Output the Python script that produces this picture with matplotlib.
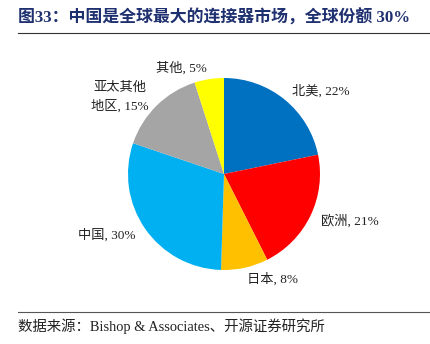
import matplotlib
matplotlib.use('Agg')
import matplotlib.pyplot as plt
from matplotlib.lines import Line2D

plt.rcParams['font.family'] = ['Liberation Serif', 'Noto Sans CJK SC', 'DejaVu Sans']

# Global connector market share by region
regions = ['北美', '欧洲', '日本', '中国', '亚太其他\n地区', '其他']
shares = [22, 21, 8, 30, 15, 5]
colors = ['#0070C0', '#FF0000', '#FFC000', '#00B0F0', '#A5A5A5', '#FFFF00']
labels = [f'{r}, {s}%' for r, s in zip(regions, shares)]

fig = plt.figure(figsize=(4.31, 3.44), dpi=100)
W, H = 431, 344

# Pie centred at (224, 174) px with a radius of ~96 px
cx, cy, r = 224, 174, 96
half = 1.25 * r
ax = fig.add_axes([(cx - half) / W, (H - cy - half) / H, 2 * half / W, 2 * half / H])
wedges, texts = ax.pie(shares, labels=labels, colors=colors, startangle=90,
                       counterclock=False, labeldistance=1.12,
                       textprops={'fontsize': 9.5, 'color': '#222222'})
for t in texts:
    t.set_multialignment('center')
    t.set_linespacing(1.5)
ax.set_aspect('equal')

# Title and rules
fig.text(18 / W, 1 - 18 / H, '图33：中国是全球最大的连接器市场，全球份额 30%',
         fontsize=12.2, fontweight='bold', color='#1F3070', va='center', ha='left')
fig.add_artist(Line2D([18 / W, 430 / W], [1 - 33 / H, 1 - 33 / H],
                      color='#333333', linewidth=0.8))
fig.add_artist(Line2D([18 / W, 430 / W], [1 - 312 / H, 1 - 312 / H],
                      color='#555555', linewidth=0.8))
fig.text(18 / W, 1 - 326 / H, '数据来源：Bishop & Associates、开源证券研究所',
         fontsize=10.4, color='#222222', va='center', ha='left')

fig.savefig('out.png', dpi=100)
